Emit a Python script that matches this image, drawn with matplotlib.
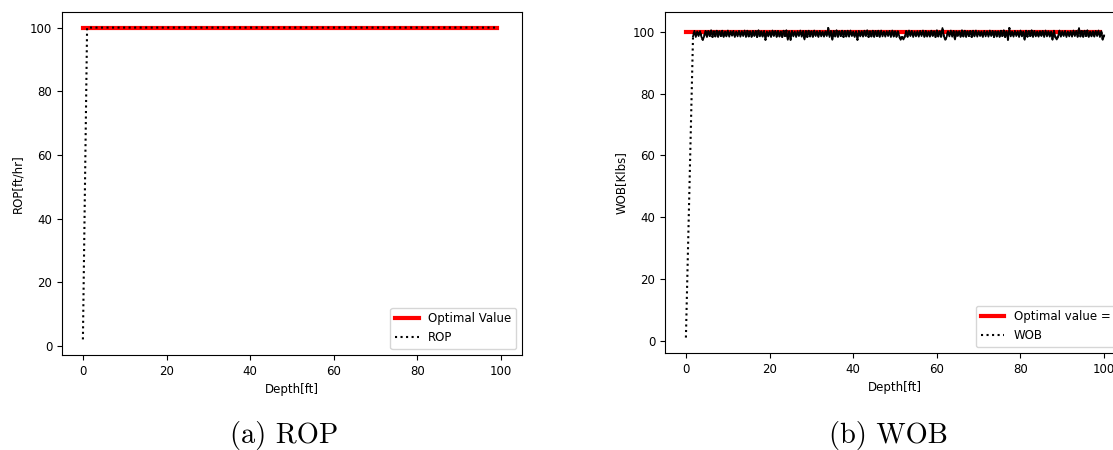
import numpy as np
import matplotlib
matplotlib.use("Agg")
import matplotlib.pyplot as plt

# ROP panel
rop_depth = np.arange(0, 100)
rop_values = [2.0] + [100.0] * 99
rop_optimal = [100.0] * 100

# WOB panel (first sample at depth 0, then dense samples from 1.7 ft)
wob_depth = [0.0] + list(np.linspace(1.7, 100, 296))
wob_values = [1.0,
    98.6, 100.4, 98.4, 100.2, 98.7, 100.3, 98.5, 97.5, 98.6, 100.4,
    98.5, 100.3, 98.7, 100.5, 98.4, 100.2, 98.6, 100.4, 98.5, 100.3,
    98.7, 100.4, 98.4, 100.2, 98.6, 100.5, 98.5, 100.3, 98.8, 100.4,
    98.4, 100.2, 98.6, 100.4, 98.5, 100.3, 98.7, 100.5, 98.4, 100.4,
    98.6, 100.2, 98.5, 100.3, 98.7, 100.4, 98.4, 100.5, 98.6, 100.3,
    98.5, 100.4, 97.5, 100.2, 98.6, 100.3, 98.4, 100.5, 98.7, 100.4,
    98.5, 100.3, 98.6, 100.2, 98.4, 100.4, 98.7, 100.5, 97.5, 100.3,
    97.5, 100.4, 98.6, 100.2, 98.4, 100.3, 98.7, 100.5, 98.5, 100.4,
    97.6, 100.3, 98.4, 100.4, 98.6, 100.2, 98.5, 100.5, 98.7, 100.3,
    98.4, 100.4, 98.6, 100.2, 98.5, 100.3, 98.7, 101.3, 98.4, 100.4,
    97.5, 100.3, 98.6, 100.5, 98.5, 100.2, 98.7, 100.4, 98.4, 100.3,
    98.6, 100.4, 98.5, 100.5, 98.7, 100.2, 98.4, 100.3, 97.5, 100.4,
    98.6, 100.3, 98.5, 100.4, 98.7, 100.5, 98.4, 100.2, 98.6, 100.4,
    98.5, 100.3, 98.7, 100.4, 98.4, 100.5, 98.6, 100.2, 98.5, 100.3,
    98.7, 100.4, 98.4, 100.5, 98.6, 100.3, 98.5, 100.2, 98.7, 97.5,
    98.4, 97.6, 98.6, 100.3, 98.5, 100.5, 98.7, 100.4, 98.4, 100.2,
    98.6, 100.3, 98.5, 100.4, 98.7, 100.5, 98.4, 100.3, 98.6, 100.2,
    98.5, 100.4, 98.7, 100.3, 98.4, 100.5, 98.6, 100.2, 98.5, 101.3,
    98.7, 97.5, 98.4, 100.3, 98.6, 100.5, 98.5, 100.4, 97.6, 100.2,
    98.7, 100.3, 98.4, 100.5, 98.6, 100.4, 98.5, 100.2, 98.7, 100.3,
    98.4, 100.4, 98.6, 100.5, 98.5, 100.3, 98.7, 100.2, 98.4, 100.4,
    98.6, 100.3, 98.5, 100.5, 98.7, 100.4, 98.4, 100.2, 98.6, 100.3,
    98.5, 100.4, 98.7, 100.5, 98.4, 100.3, 97.5, 101.3, 98.6, 100.2,
    98.5, 100.4, 98.7, 100.3, 98.4, 100.5, 98.6, 100.2, 97.5, 100.4,
    98.5, 100.3, 98.7, 100.5, 98.4, 100.4, 98.6, 100.2, 98.5, 100.3,
    98.7, 100.4, 98.4, 100.5, 98.6, 100.3, 98.5, 100.2, 97.5, 100.4,
    98.4, 97.6, 98.6, 100.5, 98.5, 100.3, 98.7, 100.4, 98.4, 100.2,
    98.6, 100.3, 98.5, 100.5, 98.7, 100.4, 98.4, 101.3, 98.6, 100.3,
    98.5, 100.4, 98.7, 100.5, 98.4, 100.2, 98.6, 100.3, 98.5, 100.4,
    98.7, 100.5, 98.4, 100.3, 97.5, 98.9]
wob_opt_depth = np.arange(0, 100)
wob_optimal = [100.0] * 100

FS = 8.5
W, H = 1113, 450

fig = plt.figure(figsize=(W / 100, H / 100), dpi=100)

ax1 = fig.add_axes([62 / W, (H - 355) / H, 460 / W, 343 / H])
ax1.plot(rop_depth, rop_optimal, color="red", lw=3, label="Optimal Value")
ax1.plot(rop_depth, rop_values, color="black", ls=":", lw=1.5, label="ROP")
ax1.set_xlim(-5, 105)
ax1.set_xlabel("Depth[ft]", fontsize=FS)
ax1.set_ylabel("ROP[ft/hr]", fontsize=FS)
ax1.tick_params(labelsize=FS)
ax1.legend(loc="lower right", fontsize=FS)

ax2 = fig.add_axes([665 / W, (H - 353) / H, 460 / W, 341 / H])
ax2.plot(wob_opt_depth, wob_optimal, color="red", lw=3, label="Optimal value = ")
ax2.plot(wob_depth, wob_values, color="black", ls=":", lw=1.5, label="WOB")
# the noisy part is so dense in the original that the dots merge into a solid band
ax2.plot(wob_depth[1:], wob_values[1:], color="black", lw=1.3)
ax2.set_xlim(-5, 105)
ax2.set_ylim(-4, 106.5)
ax2.set_xlabel("Depth[ft]", fontsize=FS)
ax2.set_ylabel("WOB[Klbs]", fontsize=FS)
ax2.tick_params(labelsize=FS)
ax2.legend(loc="lower right", fontsize=FS)

fig.text(284 / W, 1 - 435 / H, "(a) ROP", family="cmr10", fontsize=20.5,
         ha="center", va="center")
fig.text(888 / W, 1 - 435 / H, "(b) WOB", family="cmr10", fontsize=20.5,
         ha="center", va="center")

fig.savefig("out.png", dpi=100)
